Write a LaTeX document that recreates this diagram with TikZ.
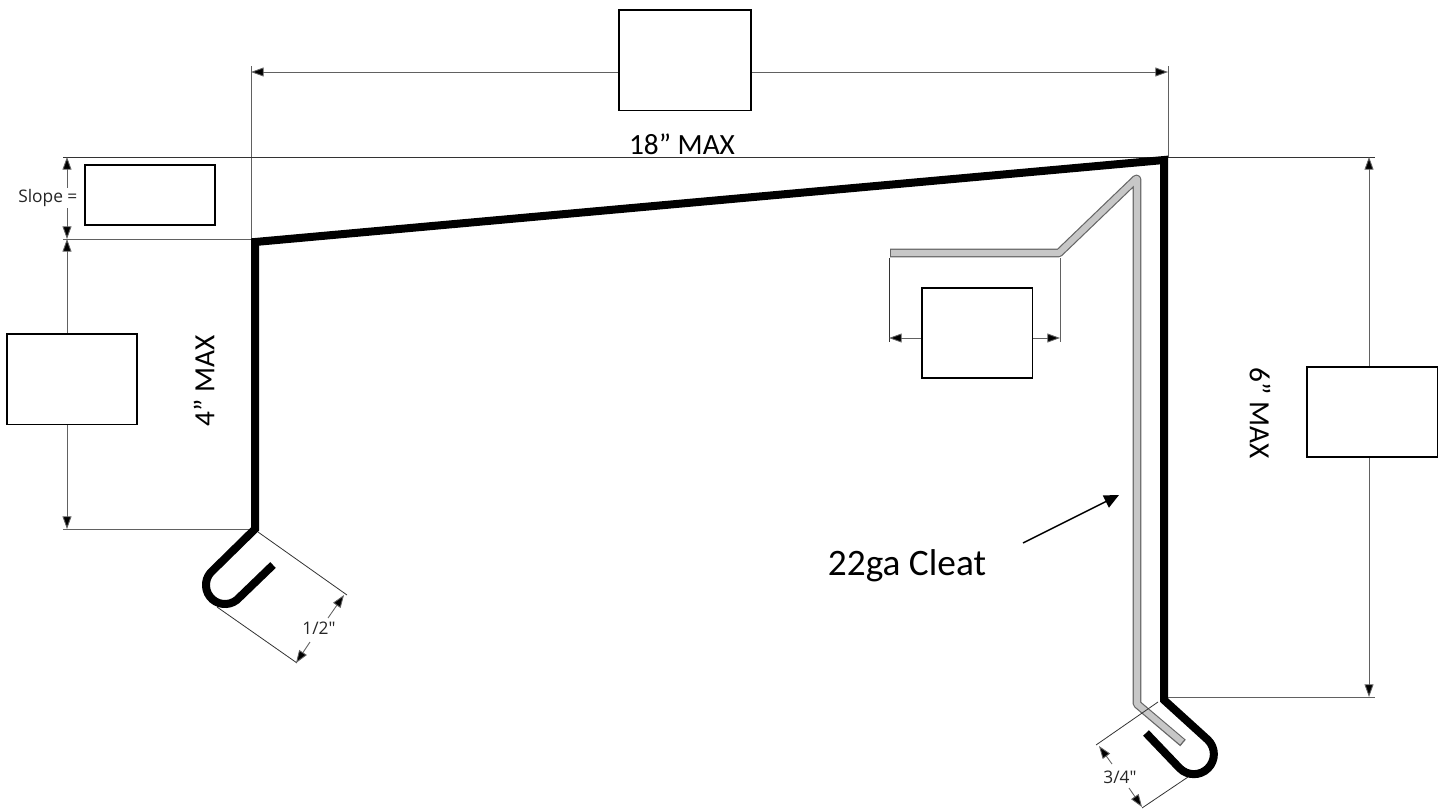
\documentclass[tikz,border=0pt]{standalone}
\usepackage{fontspec}
\setmainfont{Carlito}
\newfontfamily\dimfont{Open Sans}
\usetikzlibrary{arrows.meta}
\tikzset{
  x=0.75pt,y=-0.75pt,
  blank/.style={draw=black,line width=1.2pt,fill=white,inner sep=0pt,anchor=north west},
  dimline/.style={draw=black!62,line width=0.65pt},
  darkline/.style={draw=black!80,line width=0.6pt},
  tipped/.style={dimline,-{Triangle[length=9.5pt,width=6.7pt,fill=black]}},
  twotipped/.style={dimline,{Triangle[length=9.5pt,width=6.7pt,fill=black]}-{Triangle[length=9.5pt,width=6.7pt,fill=black]}},
  sheet/.style={draw=black,line width=6pt,line join=miter,line cap=butt},
  cleatedge/.style={draw=black!60,line width=6.4pt,line join=round},
  cleatfill/.style={draw=black!22,line width=4.6pt,line join=round},
  maxlabel/.style={font=\fontsize{22}{24}\selectfont,inner sep=0pt},
  smalldim/.style={font=\dimfont\fontsize{13}{15}\selectfont,inner sep=0pt,text=black!85},
}
\begin{document}
\begin{tikzpicture}
\useasboundingbox (0,0) rectangle (1445,810);
% named points
\coordinate (topL) at (251,72);
\coordinate (topR) at (1168,72);
\coordinate (extTL) at (251,66);
\coordinate (extTLb) at (251,241);
\coordinate (extTR) at (1168,66);
\coordinate (extTRb) at (1168,157);
\coordinate (ridgeL) at (63,157);
\coordinate (ridgeR) at (1375,157);
\coordinate (eaveL) at (63,239);
\coordinate (eaveR) at (254,239);
\coordinate (lowL) at (63,529);
\coordinate (lowR) at (254,529);
\coordinate (d1a) at (67,157);
\coordinate (d1b) at (67,239);
\coordinate (d2a) at (67,239);
\coordinate (d2b) at (67,529);
\coordinate (rdA) at (1369,157);
\coordinate (rdB) at (1369,697);
\coordinate (rlowL) at (1166,697);
\coordinate (rlowR) at (1375,697);
% dimension lines under the boxes
\draw[dimline] (extTL) -- (extTLb);
\draw[dimline] (extTR) -- (extTRb);
\draw[darkline] (ridgeL) -- (ridgeR);
\draw[dimline] (eaveL) -- (eaveR);
\draw[dimline] (lowL) -- (lowR);
\draw[dimline] (rlowL) -- (rlowR);
\draw[twotipped] (topL) -- (topR);
\draw[twotipped] (d1a) -- (d1b);
\draw[twotipped] (d2a) -- (d2b);
\draw[twotipped] (rdA) -- (rdB);
% cleat dimension
\coordinate (cA) at (889,258);
\coordinate (cAb) at (889,342);
\coordinate (cB) at (1060,258);
\coordinate (cBb) at (1060,342);
\coordinate (cL) at (889,338);
\coordinate (cR) at (1060,338);
\draw[darkline] (cA) -- (cAb);
\draw[dimline] (cB) -- (cBb);
\draw[twotipped] (cL) -- (cR);
% hem dimensions
\coordinate (hA1) at (258,532);
\coordinate (hA2) at (347,595);
\coordinate (hB1) at (217,607);
\coordinate (hB2) at (297,663);
\coordinate (hT1) at (344,595);
\coordinate (hT1e) at (328,618);
\coordinate (hT2) at (296,663);
\coordinate (hT2e) at (310,642);
\draw[darkline] (hA1) -- (hA2);
\draw[darkline] (hB1) -- (hB2);
\draw[tipped] (hT1e) -- (hT1);
\draw[tipped] (hT2e) -- (hT2);
\node[smalldim] (halfdim) at (319,628) {1/2"};
\coordinate (qA1) at (1158,702);
\coordinate (qA2) at (1096,745);
\coordinate (qB1) at (1188,777);
\coordinate (qB2) at (1142,808);
\coordinate (qT1) at (1099,746);
\coordinate (qT1e) at (1112,764);
\coordinate (qT2) at (1142,807);
\coordinate (qT2e) at (1129,788);
% cleat
\draw[cleatedge] (890,253) -- (1059,253) -- (1136,179) -- (1137,179) -- (1137,704) -- (1183,743);
\draw[cleatfill] (891,253) -- (1059,253) -- (1136,179) -- (1137,179) -- (1137,704) -- (1182,742);
\draw[darkline] (qA1) -- (qA2);
\draw[darkline] (qB1) -- (qB2);
\draw[tipped] (qT1e) -- (qT1);
\draw[tipped] (qT2e) -- (qT2);
\node[smalldim] (quarterdim) at (1120,777) {3/4"};
% sheet metal
\draw[sheet] (273,565) -- (239.3,597.5) arc[start angle=41,end angle=221,radius=19] -- (255,529) -- (255,242) -- (1164,160) -- (1164,700) -- (1208,740) arc[start angle=-45,end angle=135,radius=20] -- (1146,733);
% boxes
\node[blank,minimum width=99pt,minimum height=75.5pt] (boxtop) at (618,9) {};
\node[blank,minimum width=97.5pt,minimum height=68pt] (boxleft) at (6,333) {};
\node[blank,minimum width=98pt,minimum height=67.5pt] (boxright) at (1306,366) {};
\node[blank,minimum width=97.5pt,minimum height=45pt] (boxslope) at (84,164) {};
\node[blank,minimum width=83pt,minimum height=67.5pt] (boxcleat) at (921,287) {};
% labels
\node[fill=white,inner sep=1pt,font=\dimfont\fontsize{13}{15}\selectfont,text=black!85,anchor=east] (slopetxt) at (79,198) {Slope =};
\node[maxlabel] (lab18) at (682,144) {18” MAX};
\node[maxlabel,rotate=90] (lab4) at (204,381) {4” MAX};
\node[maxlabel,rotate=-90] (lab6) at (1260,413) {6” MAX};
\node[font=\fontsize{28}{30}\selectfont,inner sep=0pt] (cleatlab) at (907,566) {22ga Cleat};
\coordinate (leaderA) at (1023,543);
\coordinate (leaderB) at (1119,495);
\draw[draw=black,line width=1.1pt,-{Triangle[length=11pt,width=10pt,fill=black]}] (leaderA) -- (leaderB);
\end{tikzpicture}
\end{document}
